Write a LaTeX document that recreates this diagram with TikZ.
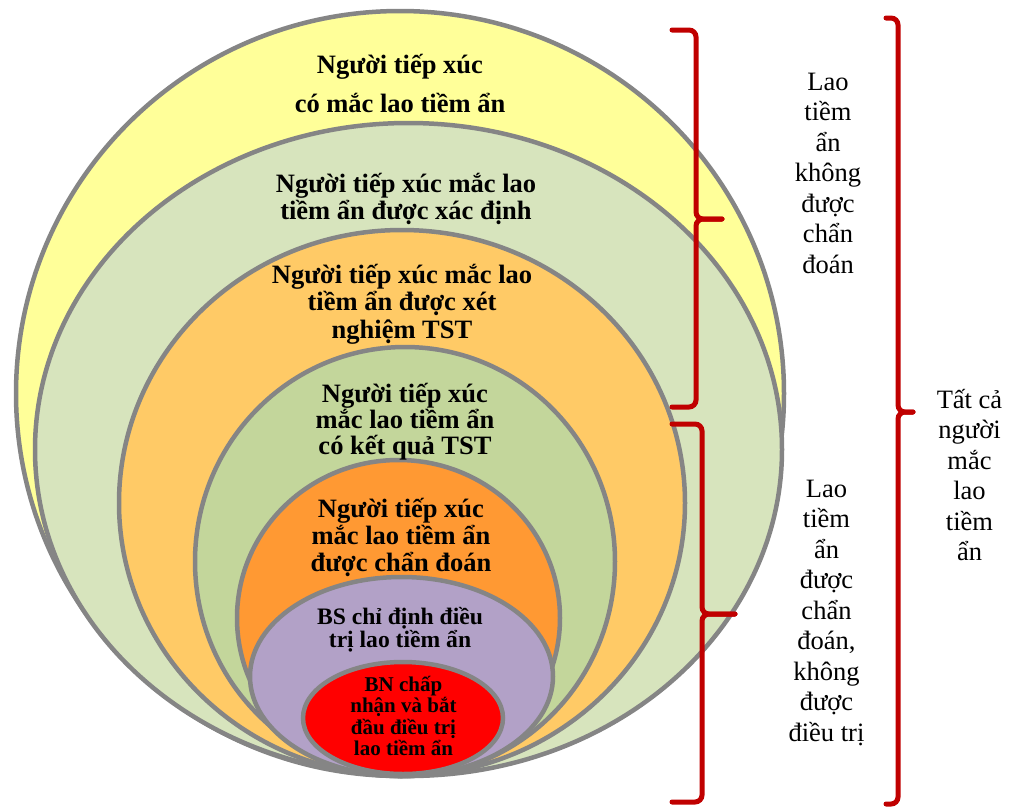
\documentclass[tikz,border=0pt]{standalone}
\usepackage{fontspec}
\setmainfont{Liberation Serif}
\usetikzlibrary{shapes.geometric}

\definecolor{rimgrey}{HTML}{858585}
\definecolor{braceRed}{HTML}{C00000}
\definecolor{fillYellow}{HTML}{FFFF99}
\definecolor{fillSage}{HTML}{D7E4BD}
\definecolor{fillApricot}{HTML}{FFCA66}
\definecolor{fillOlive}{HTML}{C3D69B}
\definecolor{fillOrange}{HTML}{FF9933}
\definecolor{fillLilac}{HTML}{B2A1C7}
\definecolor{fillRed}{HTML}{FF0000}

% centred lines with a fixed baseline distance; the box's baseline is the first line's
\newcommand\txtstack[2]{\vtop{\baselineskip=#1\lineskiplimit=-100pt\lineskip=0pt\halign{\hfil##\hfil\cr#2\crcr}}}

\tikzset{
  ring/.style={ellipse, draw=rimgrey, line width=4.5pt, inner sep=0pt, outer sep=0pt},
  inlabel/.style={anchor=base, inner sep=0pt, font=\bfseries\fontsize{26.5}{27}\selectfont},
  sidelabel/.style={anchor=base, inner sep=0pt, font=\fontsize{26.5}{30.5}\selectfont},
  brace/.style={draw=braceRed, line width=5pt, rounded corners=7pt, line cap=round}
}

\begin{document}
\begin{tikzpicture}[x=1pt, y=-1pt]
\path[use as bounding box] (0,0) rectangle (1013,807);

% nested populations, all touching at the bottom
\node[ring, fill=fillYellow,  minimum width=768, minimum height=765] (e1) at (400,393.5) {};
\node[ring, fill=fillSage,    minimum width=747, minimum height=653] (e2) at (408.5,449.5) {};
\node[ring, fill=fillApricot, minimum width=566, minimum height=546] (e3) at (402,503) {};
\node[ring, fill=fillOlive,   minimum width=420, minimum height=429] (e4) at (405,561.5) {};
\node[ring, fill=fillOrange,  minimum width=323, minimum height=316] (e5) at (398.5,618) {};
\node[ring, fill=fillLilac,   minimum width=303, minimum height=199] (e6) at (401.5,676.5) {};
\node[ring, fill=fillRed,     minimum width=200, minimum height=112] (e7) at (403,718) {};

% ring captions
\node[inlabel] (t1) at (400,73) {\txtstack{39pt}{Người tiếp xúc\cr có mắc lao tiềm ẩn}};
\node[inlabel] (t2) at (406,192) {\txtstack{27pt}{Người tiếp xúc mắc lao\cr tiềm ẩn được xác định}};
\node[inlabel] (t3) at (402,283) {\txtstack{27.5pt}{Người tiếp xúc mắc lao\cr tiềm ẩn được xét\cr nghiệm TST}};
\node[inlabel] (t4) at (405,402) {\txtstack{26pt}{Người tiếp xúc\cr mắc lao tiềm ẩn\cr có kết quả TST}};
\node[inlabel] (t5) at (401,517) {\txtstack{27pt}{Người tiếp xúc\cr mắc lao tiềm ẩn\cr được chẩn đoán}};
\node[inlabel, font=\bfseries\fontsize{23.6}{23.5}\selectfont] (t6) at (400,624)
  {\txtstack{23.5pt}{BS chỉ định điều\cr trị lao tiềm ẩn}};
\node[inlabel, font=\bfseries\fontsize{21}{21.5}\selectfont] (t7) at (403.5,691)
  {\txtstack{21.5pt}{BN chấp\cr nhận và bắt\cr đầu điều trị\cr lao tiềm ẩn}};

% braces on the right
\coordinate (b1top) at (672,30);
\coordinate (b1mid) at (722,219);
\coordinate (b1bot) at (672,407);
\draw[brace] (b1top) -- (696,30) -- (696,219) -- (b1mid);
\draw[brace] (b1mid) -- (696,219) -- (696,407) -- (b1bot);

\coordinate (b2top) at (672,424);
\coordinate (b2mid) at (735,614);
\coordinate (b2bot) at (672,802);
\draw[brace] (b2top) -- (702,424) -- (702,614) -- (b2mid);
\draw[brace] (b2mid) -- (702,614) -- (702,802) -- (b2bot);

\coordinate (b3top) at (886,18);
\coordinate (b3mid) at (913,412);
\coordinate (b3bot) at (886,804);
\draw[brace] (b3top) -- (898,18) -- (898,412) -- (b3mid);
\draw[brace] (b3mid) -- (898,412) -- (898,804) -- (b3bot);

% brace captions
\node[sidelabel] (s1) at (828,90) {\txtstack{30.5pt}{Lao\cr tiềm\cr ẩn\cr không\cr được\cr chẩn\cr đoán}};
\node[sidelabel] (s2) at (826.5,497) {\txtstack{30.5pt}{Lao\cr tiềm\cr ẩn\cr được\cr chẩn\cr đoán,\cr không\cr được\cr điều trị}};
\node[sidelabel] (s3) at (969.5,408) {\txtstack{30.5pt}{Tất cả\cr người\cr mắc\cr lao\cr tiềm\cr ẩn}};
\end{tikzpicture}
\end{document}
